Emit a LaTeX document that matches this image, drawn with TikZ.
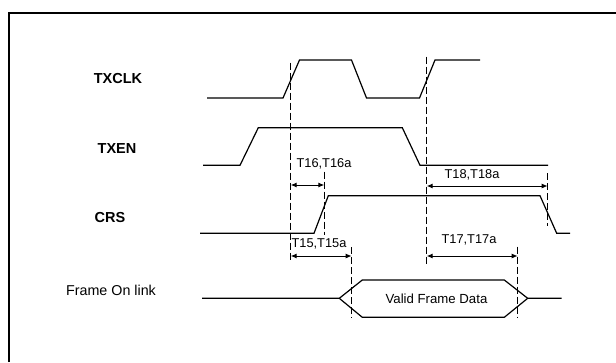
\documentclass[tikz,border=0pt]{standalone}
\usepackage{fontspec}
\setmainfont{Liberation Sans}
\usetikzlibrary{arrows.meta}

\tikzset{
  sig/.style={line width=1.2pt, line join=miter},
  guide/.style={line width=1pt, dash pattern=on 7pt off 3pt},
  dim/.style={line width=1pt, {Latex[length=6pt,width=5pt]}-{Latex[length=6pt,width=5pt]}},
  signame/.style={font=\fontsize{14.5}{16}\selectfont\bfseries, inner sep=0pt},
  tlabel/.style={font=\fontsize{12.8}{14}\selectfont, inner sep=0pt},
}

\begin{document}
\begin{tikzpicture}[x=1pt, y=-1pt]
  \useasboundingbox (0,0) rectangle (616,362);
  % frame
  \draw[line width=2pt] (8.5,362) -- (8.5,12.5) -- (616,12.5);

  % signal names
  \node[signame] (txclk) at (118,79)  {TXCLK};
  \node[signame] (txen)  at (117,149) {TXEN};
  \node[signame] (crs)   at (110,218) {CRS};
  \node[tlabel, font=\fontsize{14.3}{16}\selectfont] (link) at (111,290) {Frame On link};

  % waveforms
  \draw[sig] (207,98) -- (283,98) -- (299.5,60) -- (351.5,60) -- (366.5,98) -- (419.5,98) -- (435,60) -- (480,60);
  \draw[sig] (203,165.3) -- (240,165.3) -- (258.3,127.7) -- (402.3,127.7) -- (420,165.3) -- (548,165.3);
  \draw[sig] (200,233.3) -- (314,233.3) -- (328.3,195.7) -- (540,195.7) -- (556.7,233.3) -- (570,233.3);
  \draw[sig] (202,298.3) -- (339.3,298.3) -- (362.3,280) -- (504.3,280) -- (527.7,298.3) -- (561.7,298.3);
  \draw[sig] (339.3,298.3) -- (362.3,317.3) -- (504.3,317.3) -- (527.7,298.3);
  \node[tlabel, font=\fontsize{13.2}{15}\selectfont] (valid) at (436.5,299) {Valid Frame Data};

  % guide lines
  \foreach \x/\ya/\yb in {290.7/62.7/260, 324.3/171.7/235, 351.7/247.3/318.3,
                          426.7/56.7/265, 547.7/173/226, 517.7/246.7/318.3}
    \draw[guide] (\x,\ya) -- (\x,\yb);

  % timing arrows
  \coordinate (t16a) at (290.7,185);  \coordinate (t16b) at (324.3,185);
  \coordinate (t18a) at (426.7,186);  \coordinate (t18b) at (547.7,186);
  \coordinate (t15a) at (290.7,256);  \coordinate (t15b) at (351.7,256);
  \coordinate (t17a) at (426.7,256);  \coordinate (t17b) at (517.7,256);
  \draw[dim] (t16a) -- (t16b);
  \draw[dim] (t18a) -- (t18b);
  \draw[dim] (t15a) -- (t15b);
  \draw[dim] (t17a) -- (t17b);
  \node[tlabel] (l16) at (324,164.3) {T16,T16a};
  \node[tlabel] (l18) at (472,175)   {T18,T18a};
  \node[tlabel] (l15) at (319,243.5) {T15,T15a};
  \node[tlabel] (l17) at (469,240)   {T17,T17a};
\end{tikzpicture}
\end{document}
